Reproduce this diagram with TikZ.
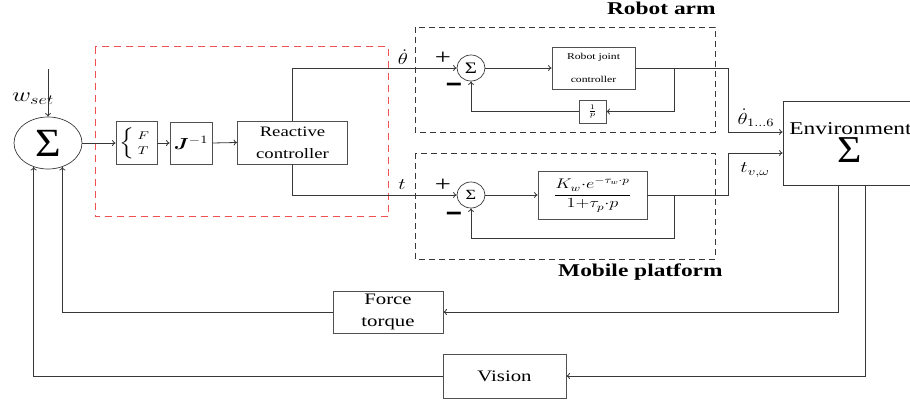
\RequirePackage{fix-cm}
\documentclass[tikz,border=0pt]{standalone}
\usepackage{amsmath}
\usepackage{graphicx}
\usepackage{fontspec}
\setmainfont{Liberation Serif}
\usetikzlibrary{shapes.geometric,arrows.meta}
% horizontally widened lettering used throughout the diagram
\newcommand{\sx}[1]{\scalebox{1.3}[1]{#1}}
\newcommand{\fs}[2]{\fontsize{#1}{#2}\selectfont}
\definecolor{ln}{HTML}{383838}
\definecolor{bx}{HTML}{505050}
\definecolor{dashred}{HTML}{F25050}

\begin{document}
\begin{tikzpicture}[x=1pt,y=-1pt,line width=0.8pt,
  >={To[length=3.5pt,width=6pt]},
  wire/.style={draw=ln,line width=0.8pt},
  blk/.style={draw=bx,rectangle,inner sep=0pt,line width=0.8pt,align=center},
  sumnode/.style={draw=ln,ellipse,inner sep=0pt,line width=0.7pt},
  grpbox/.style={draw=ln,line width=0.75pt,dash pattern=on 6pt off 4pt},
  ctrlbox/.style={draw=dashred,line width=1pt,dash pattern=on 7pt off 5pt},
  lbl/.style={inner sep=0pt},
  grptitle/.style={inner sep=0pt,font=\fs{18}{20}\bfseries}]

\clip (0,0) rectangle (910,403);

% ---- frames ------------------------------------------------------------
\draw[ctrlbox] (95,47) rectangle (388,217);
\draw[grpbox] (415,27) rectangle (715,132);
\draw[grpbox] (415,153) rectangle (715,259);
\node[grptitle,anchor=base east] (armtitle) at (716,15) {\sx{Robot arm}};
\node[grptitle,anchor=base east] (mobtitle) at (723,277) {\sx{Mobile platform}};

% ---- main summing junction and forward path ---------------------------
\node[sumnode,minimum width=68pt,minimum height=52pt] (sumE) at (48,143) {};
\node[lbl,font=\fs{40}{40}] (sumEsig) at (48,143) {\scalebox{1.1}[1]{Σ}};
\coordinate (win) at (48,69);
\node[lbl,font=\fs{20}{22}] (wset) at (33,99) {\sx{$w_{set}$}};

\node[blk,minimum width=41pt,minimum height=43pt] (ft) at (136.5,143)
  {\fs{16}{18}\sx{$\left\{\begin{smallmatrix}F\\[6pt] T\end{smallmatrix}\right.$}};
\node[blk,minimum width=42pt,minimum height=42pt] (jinv) at (191,143)
  {\fs{16}{18}\sx{$\boldsymbol{J}^{-1}$}};
\node[blk,minimum width=110pt,minimum height=43pt,font=\fs{14.4}{22}] (react) at (292.5,142.5)
  {\sx{Reactive}\\\sx{controller}};

% ---- robot arm loop ---------------------------------------------------
\node[sumnode,minimum width=28pt,minimum height=26pt] (sum1) at (471,68) {\fs{16}{16}\sx{Σ}};
\node[blk,minimum width=83pt,minimum height=42pt,font=\fs{9}{23}] (rjc) at (593.5,68)
  {\sx{Robot joint}\\\sx{controller}};
\node[blk,minimum width=27pt,minimum height=23pt] (invp) at (592.5,111.5)
  {\fs{10}{12}\sx{$\frac{1}{p}$}};
\coordinate (tap1) at (674,68);
\node[lbl,font=\fs{22}{22}] (plus1) at (443,58) {\sx{+}};
\node[lbl,font=\fs{16}{16}\bfseries] (minus1) at (454,88) {\scalebox{1.7}[2.4]{–}};

% ---- mobile platform loop ----------------------------------------------
\node[sumnode,minimum width=28pt,minimum height=26pt] (sum2) at (471,195) {\fs{14}{14}\sx{Σ}};
\node[blk,minimum width=109pt,minimum height=48pt] (tf) at (592.5,195)
  {\fs{14}{16}\sx{$\dfrac{K_w{\cdot}e^{-\tau_w{\cdot}p}}{1{+}\tau_p{\cdot}p}$}};
\coordinate (tap2) at (674,195);
\node[lbl,font=\fs{22}{22}] (plus2) at (443,185) {\sx{+}};
\node[lbl,font=\fs{16}{16}\bfseries] (minus2) at (454,217) {\scalebox{1.7}[2.4]{–}};

% ---- environment and sensors -------------------------------------------
\node[draw=ln,rectangle,line width=0.8pt,minimum width=137pt,minimum height=84pt] (env) at (851.5,143) {};
\node[lbl,anchor=base west,font=\fs{18}{20}] (envtxt) at (789,135) {\sx{Environment}};
\node[lbl,anchor=base,font=\fs{38}{40}] (envsig) at (850,163) {\scalebox{1.1}[1]{Σ}};
\node[blk,minimum width=110pt,minimum height=42pt,font=\fs{16}{22}] (force) at (388,312)
  {\sx{Force}\\\sx{torque}};
\node[blk,minimum width=123pt,minimum height=44pt,font=\fs{16}{18}] (vision) at (504.5,376)
  {\sx{Vision}};

% ---- signal labels --------------------------------------------------------
\node[lbl,font=\fs{16}{18}] (thdot) at (403,57) {\sx{$\dot\theta$}};
\node[lbl,font=\fs{16}{18}] (tlab) at (402,185) {\sx{$t$}};
\node[lbl,font=\fs{16}{18}] (thout) at (756,118) {\sx{$\dot\theta_{1\ldots6}$}};
\node[lbl,font=\fs{16}{18}] (tout) at (755,170) {\sx{$t_{v,\omega}$}};

% ---- connectors ------------------------------------------------------------
\draw[wire,->] (win) -- (sumE.north);
\draw[wire,->] (sumE.east) -- (ft.west);
\draw[wire,->] (ft.east) -- (jinv.west);
\draw[wire,->] (jinv.east) -- (react.west);
\draw[wire,->] (react.north) |- (sum1.west);
\draw[wire,->] (react.south) |- (sum2.west);

\draw[wire,->] (sum1.east) -- (rjc.west);
\draw[wire,->] (rjc.east) -- (728,68) |- ([yshift=11pt]env.west);
\draw[wire,->] (tap1) |- (invp.east);
\draw[wire,->] (invp.west) -| (sum1.south);

\draw[wire,->] (sum2.east) -- (tf.west);
\draw[wire,->] (tf.east) -- (728,195) |- ([yshift=-10pt]env.west);
\draw[wire,->] (tap2) -- (674,238) -| (sum2.south);

\draw[wire,->] ([xshift=-13.5pt]env.south) |- (force.east);
\draw[wire,->] ([xshift=13.5pt]env.south) |- (vision.east);
\draw[wire,->] (force.west) -| (sumE.-59);
\draw[wire,->] (vision.west) -| (sumE.-121);
\end{tikzpicture}
\end{document}
